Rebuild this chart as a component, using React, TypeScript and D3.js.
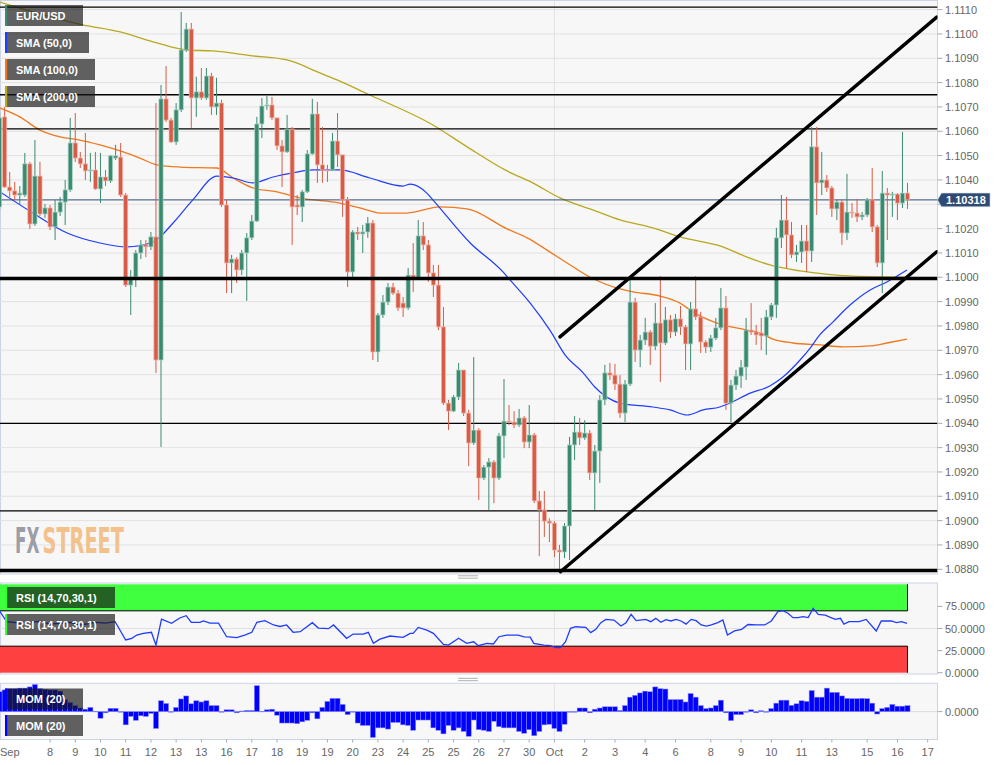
import React from 'react';
import * as d3 from 'd3';

// ---------- DATA ----------
// 4-hour EUR/USD candles: [open, high, low, close]
const OHLC: [number, number, number, number][] = [
  [1.10289, 1.10679, 1.10277, 1.10655], [1.10659, 1.10700, 1.10367, 1.10371], [1.10371, 1.10433, 1.10330, 1.10355],
  [1.10355, 1.10392, 1.10318, 1.10338], [1.10338, 1.10375, 1.10297, 1.10346], [1.10338, 1.10511, 1.10330, 1.10466],
  [1.10466, 1.10474, 1.10199, 1.10219], [1.10219, 1.10564, 1.10211, 1.10416], [1.10416, 1.10474, 1.10252, 1.10260],
  [1.10260, 1.10301, 1.10244, 1.10285], [1.10285, 1.10297, 1.10194, 1.10207], [1.10207, 1.10318, 1.10153, 1.10268],
  [1.10268, 1.10330, 1.10252, 1.10309], [1.10309, 1.10400, 1.10215, 1.10359], [1.10359, 1.10655, 1.10351, 1.10552],
  [1.10552, 1.10675, 1.10474, 1.10490], [1.10490, 1.10515, 1.10449, 1.10466], [1.10466, 1.10593, 1.10400, 1.10437],
  [1.10437, 1.10511, 1.10392, 1.10441], [1.10441, 1.10515, 1.10359, 1.10363], [1.10363, 1.10511, 1.10305, 1.10412],
  [1.10412, 1.10441, 1.10375, 1.10396], [1.10396, 1.10503, 1.10388, 1.10499], [1.10490, 1.10544, 1.10482, 1.10499],
  [1.10494, 1.10552, 1.10330, 1.10338], [1.10338, 1.10346, 1.09960, 1.09968], [1.09968, 1.10030, 1.09845, 1.10001],
  [1.10001, 1.10112, 1.09960, 1.10100], [1.10100, 1.10153, 1.10075, 1.10133], [1.10133, 1.10153, 1.10083, 1.10125],
  [1.10125, 1.10186, 1.10112, 1.10166], [1.10166, 1.10716, 1.09607, 1.09660], [1.09660, 1.10790, 1.09303, 1.10733],
  [1.10733, 1.10868, 1.10638, 1.10646], [1.10646, 1.10655, 1.10552, 1.10556], [1.10556, 1.10716, 1.10544, 1.10688],
  [1.10688, 1.11090, 1.10679, 1.10934], [1.10934, 1.11045, 1.10926, 1.11020], [1.11020, 1.11045, 1.10614, 1.10737],
  [1.10737, 1.10824, 1.10659, 1.10762], [1.10762, 1.10860, 1.10729, 1.10737], [1.10737, 1.10860, 1.10729, 1.10827],
  [1.10827, 1.10840, 1.10667, 1.10700], [1.10700, 1.10820, 1.10667, 1.10716], [1.10716, 1.10729, 1.10289, 1.10297],
  [1.10297, 1.10318, 1.09935, 1.10059], [1.10059, 1.10092, 1.09935, 1.10075], [1.10075, 1.10083, 1.09977, 1.10030],
  [1.10030, 1.10112, 1.10009, 1.10100], [1.10100, 1.10182, 1.09903, 1.10162], [1.10162, 1.10256, 1.10153, 1.10231],
  [1.10231, 1.10659, 1.10227, 1.10630], [1.10630, 1.10737, 1.10572, 1.10704], [1.10704, 1.10745, 1.10688, 1.10708],
  [1.10708, 1.10741, 1.10646, 1.10655], [1.10655, 1.10655, 1.10523, 1.10540], [1.10540, 1.10564, 1.10371, 1.10515],
  [1.10515, 1.10667, 1.10511, 1.10609], [1.10609, 1.10618, 1.10133, 1.10289], [1.10297, 1.10338, 1.10256, 1.10289],
  [1.10289, 1.10359, 1.10227, 1.10351], [1.10351, 1.10523, 1.10346, 1.10507], [1.10507, 1.10733, 1.10503, 1.10671],
  [1.10671, 1.10721, 1.10388, 1.10462], [1.10462, 1.10618, 1.10388, 1.10441], [1.10441, 1.10462, 1.10392, 1.10439],
  [1.10441, 1.10593, 1.10437, 1.10560], [1.10560, 1.10675, 1.10453, 1.10503], [1.10503, 1.10503, 1.10248, 1.10318],
  [1.10318, 1.10330, 1.09960, 1.10022], [1.10022, 1.10194, 1.10001, 1.10186], [1.10186, 1.10207, 1.10153, 1.10178],
  [1.10178, 1.10215, 1.10100, 1.10186], [1.10186, 1.10248, 1.10162, 1.10223], [1.10223, 1.10235, 1.09660, 1.09693],
  [1.09693, 1.09853, 1.09652, 1.09845], [1.09845, 1.09927, 1.09833, 1.09898], [1.09898, 1.09977, 1.09886, 1.09960],
  [1.09960, 1.09977, 1.09927, 1.09935], [1.09935, 1.09948, 1.09862, 1.09874], [1.09894, 1.09919, 1.09837, 1.09874],
  [1.09874, 1.10038, 1.09866, 1.10009], [1.10009, 1.10141, 1.09940, 1.09997], [1.09997, 1.10235, 1.09989, 1.10170],
  [1.10170, 1.10227, 1.10112, 1.10133], [1.10133, 1.10153, 1.09981, 1.10018], [1.10018, 1.10051, 1.09919, 1.09968],
  [1.09968, 1.10051, 1.09783, 1.09796], [1.09796, 1.09878, 1.09475, 1.09483], [1.09483, 1.09496, 1.09372, 1.09450],
  [1.09450, 1.09516, 1.09446, 1.09508], [1.09508, 1.09648, 1.09496, 1.09619], [1.09619, 1.09619, 1.09430, 1.09442],
  [1.09442, 1.09455, 1.09224, 1.09319], [1.09319, 1.09672, 1.09311, 1.09372], [1.09372, 1.09380, 1.09085, 1.09175],
  [1.09175, 1.09228, 1.09167, 1.09220], [1.09220, 1.09257, 1.09044, 1.09241], [1.09241, 1.09249, 1.09072, 1.09175],
  [1.09175, 1.09360, 1.09167, 1.09348], [1.09348, 1.09582, 1.09257, 1.09409], [1.09409, 1.09475, 1.09393, 1.09405],
  [1.09405, 1.09450, 1.09380, 1.09393], [1.09393, 1.09459, 1.09385, 1.09422], [1.09422, 1.09430, 1.09298, 1.09323],
  [1.09323, 1.09475, 1.09298, 1.09352], [1.09352, 1.09360, 1.09072, 1.09081], [1.09081, 1.09122, 1.08854, 1.09044],
  [1.09044, 1.09122, 1.08933, 1.08998], [1.08998, 1.09010, 1.08912, 1.08990], [1.08990, 1.08998, 1.08850, 1.08879],
  [1.08879, 1.08900, 1.08788, 1.08871], [1.08871, 1.08990, 1.08846, 1.08978], [1.08978, 1.09344, 1.08838, 1.09311],
  [1.09311, 1.09430, 1.09249, 1.09364], [1.09364, 1.09422, 1.09311, 1.09340], [1.09340, 1.09413, 1.09332, 1.09360],
  [1.09360, 1.09372, 1.09167, 1.09196], [1.09196, 1.09311, 1.09044, 1.09286], [1.09286, 1.09516, 1.09155, 1.09496],
  [1.09496, 1.09640, 1.09475, 1.09607], [1.09607, 1.09648, 1.09578, 1.09598], [1.09598, 1.09644, 1.09537, 1.09561],
  [1.09561, 1.09598, 1.09422, 1.09442], [1.09442, 1.09578, 1.09405, 1.09561], [1.09561, 1.10001, 1.09553, 1.09898],
  [1.09898, 1.09915, 1.09652, 1.09701], [1.09701, 1.09763, 1.09631, 1.09742], [1.09742, 1.09833, 1.09722, 1.09775],
  [1.09775, 1.09783, 1.09640, 1.09717], [1.09717, 1.09894, 1.09701, 1.09812], [1.09812, 1.10005, 1.09570, 1.09730],
  [1.09730, 1.09878, 1.09722, 1.09825], [1.09825, 1.09845, 1.09750, 1.09775], [1.09775, 1.09849, 1.09759, 1.09829],
  [1.09829, 1.09882, 1.09763, 1.09796], [1.09796, 1.09804, 1.09619, 1.09726], [1.09726, 1.09898, 1.09619, 1.09870],
  [1.09870, 1.10005, 1.09825, 1.09837], [1.09837, 1.09858, 1.09689, 1.09734], [1.09734, 1.09742, 1.09689, 1.09713],
  [1.09713, 1.09763, 1.09693, 1.09750], [1.09750, 1.09833, 1.09742, 1.09792], [1.09792, 1.09956, 1.09783, 1.09874],
  [1.09874, 1.09923, 1.09455, 1.09483], [1.09483, 1.09578, 1.09405, 1.09557], [1.09557, 1.09619, 1.09537, 1.09594],
  [1.09594, 1.09660, 1.09545, 1.09631], [1.09631, 1.09833, 1.09578, 1.09783], [1.09783, 1.09894, 1.09763, 1.09775],
  [1.09775, 1.09804, 1.09722, 1.09763], [1.09771, 1.09833, 1.09701, 1.09759], [1.09759, 1.09866, 1.09681, 1.09837],
  [1.09837, 1.09894, 1.09825, 1.09886], [1.09886, 1.10203, 1.09833, 1.10162], [1.10162, 1.10338, 1.10120, 1.10235],
  [1.10235, 1.10330, 1.10038, 1.10174], [1.10174, 1.10227, 1.10079, 1.10092], [1.10092, 1.10133, 1.10063, 1.10104],
  [1.10104, 1.10215, 1.10059, 1.10149], [1.10149, 1.10215, 1.10022, 1.10108], [1.10108, 1.10618, 1.10063, 1.10536],
  [1.10536, 1.10618, 1.10256, 1.10388], [1.10388, 1.10515, 1.10338, 1.10400], [1.10400, 1.10420, 1.10351, 1.10367],
  [1.10367, 1.10375, 1.10248, 1.10281], [1.10281, 1.10318, 1.10235, 1.10309], [1.10309, 1.10318, 1.10133, 1.10182],
  [1.10182, 1.10425, 1.10153, 1.10268], [1.10268, 1.10305, 1.10244, 1.10264], [1.10264, 1.10322, 1.10227, 1.10248],
  [1.10248, 1.10268, 1.10235, 1.10256], [1.10256, 1.10326, 1.10248, 1.10318], [1.10318, 1.10449, 1.10186, 1.10207],
  [1.10207, 1.10215, 1.10042, 1.10059], [1.10059, 1.10437, 1.09935, 1.10346], [1.10346, 1.10367, 1.10153, 1.10338],
  [1.10338, 1.10351, 1.10248, 1.10342], [1.10342, 1.10346, 1.10235, 1.10305], [1.10305, 1.10597, 1.10285, 1.10346],
  [1.10346, 1.10388, 1.10281, 1.10318],
];

// moving averages: [candle index, price]
const SMA50: [number, number][] = [
  [0, 1.10352], [6.6, 1.10264], [13.4, 1.10182], [19.9, 1.10141], [25.3, 1.10125], [30.4, 1.10145], [34.4, 1.10223],
  [38.3, 1.10318], [43.1, 1.10416], [46.3, 1.10408], [50.2, 1.10388], [54.2, 1.10412], [58.2, 1.10429], [62.1, 1.10441],
  [67.5, 1.10441], [73.4, 1.10408], [80, 1.10375], [81.4, 1.10383], [84.7, 1.10346], [85.9, 1.10318], [93.3, 1.10141],
  [99.8, 1.10022], [101.2, 1.09989], [105.2, 1.09894], [109.1, 1.09783], [112.1, 1.09681], [115.7, 1.09607],
  [118, 1.09549], [123, 1.09483], [129.5, 1.09467], [132.9, 1.09455], [136.3, 1.09434], [139.5, 1.09455],
  [142.8, 1.09467], [144.8, 1.09483], [148.8, 1.09524], [152.7, 1.09553], [155.3, 1.0959], [158.7, 1.0966],
  [160.7, 1.09709], [162.6, 1.09763], [165.2, 1.09816], [168.6, 1.09886], [172.6, 1.09948], [175.9, 1.09981],
  [179.9, 1.1003],
];
const SMA100: [number, number][] = [
  [0, 1.10696], [4, 1.10659], [8, 1.10605], [12, 1.10577], [15.9, 1.10564], [19.9, 1.10544], [24.5, 1.10515],
  [27.8, 1.1049], [31.2, 1.10462], [35.8, 1.10453], [43.1, 1.10449], [46.3, 1.10408], [50.2, 1.10367], [55, 1.10351],
  [59.5, 1.10326], [67.5, 1.10305], [72.8, 1.10277], [75.4, 1.10264], [80.8, 1.10264], [87.3, 1.10289],
  [92.7, 1.10281], [100.6, 1.10199], [104.6, 1.10162], [109.7, 1.10096], [112.5, 1.10059], [117, 1.10001],
  [123, 1.09952], [125.6, 1.0994], [130.9, 1.09923], [134.9, 1.09894], [137.5, 1.09857], [142.2, 1.09812],
  [148.2, 1.09783], [150.8, 1.09771], [153.3, 1.09746], [157.3, 1.0973], [162.6, 1.09722], [167.2, 1.09714],
  [172.6, 1.09718], [175.9, 1.0973], [179.9, 1.09746],
];
const SMA200: [number, number][] = [
  [0, 1.11131], [16.5, 1.11037], [23.9, 1.11008], [31.2, 1.10963], [37.1, 1.10934], [42.3, 1.1093], [50.2, 1.1091],
  [57, 1.10893], [63.5, 1.1084], [66.9, 1.10811], [73.4, 1.10749], [85.9, 1.10626], [92.7, 1.10536], [100.6, 1.10437],
  [105.7, 1.10388], [111.1, 1.10326], [117.6, 1.10277], [123, 1.10236], [129.5, 1.10203], [134.9, 1.10166],
  [143.4, 1.10125], [148.2, 1.10083], [152.7, 1.10051], [158.7, 1.10026], [169.2, 1.10005], [179.9, 1.10001],
];

// RSI(14): [candle index, value]
const RSI: [number, number][] = [
  [0, 69.8], [1.4, 57.8], [4, 56], [8, 58], [10, 55], [14, 57], [16, 54], [19, 57], [21, 56], [22.9, 57.7], [25, 37],
  [26.2, 38.9], [27.2, 42.6], [28.5, 44.5], [30.1, 45.7], [31, 31.3], [32.1, 60.7], [34.1, 55.9], [35.8, 62.2],
  [37, 64.5], [38, 57], [39.7, 57], [40.4, 58.5], [41.7, 56], [43.4, 56], [45, 40.7], [47, 39.6], [48.6, 42.6],
  [50, 45.7], [51, 57], [52.6, 58.8], [54.3, 54], [55.6, 52.3], [56.9, 54], [58.2, 45.7], [59.6, 46.4], [62, 56.6],
  [63.2, 50.5], [65.2, 49.8], [66.2, 54], [68.8, 38.9], [70.1, 43.7], [72.1, 43.7], [73.1, 45.7], [74.1, 33.2],
  [75.4, 38], [77.4, 41.5], [80, 40], [81.4, 44.5], [82, 44.5], [83, 51.2], [84.7, 48.2], [86, 44.5], [88, 32],
  [89, 31.3], [91, 38.9], [92.6, 33.2], [94, 35], [94.9, 30.5], [96.6, 33.2], [97.9, 32.5], [99, 40.7], [100.5, 42.6],
  [102.8, 42.6], [104, 40.5], [105.2, 40.3], [105.9, 33.2], [107.9, 31.3], [109.2, 30.5], [110.2, 28.3], [111.2, 28.3],
  [112.2, 35], [113.2, 50.2], [114.2, 52], [116.2, 51.3], [117.2, 45.3], [118.2, 49], [119.2, 56.6], [120.2, 60.3],
  [121.8, 59.6], [123.2, 52.8], [124.2, 56.6], [125.2, 66], [126.2, 58.9], [128.1, 60.3], [129.1, 57.7], [130.1, 61.5],
  [131.1, 57], [132.1, 60], [133.1, 58.5], [134.1, 60.3], [135.1, 58.5], [136.1, 54.9], [137.1, 60.3], [138.1, 58.9],
  [139.1, 54], [140.1, 52.8], [141.1, 54], [142.4, 56.6], [143.4, 59.6], [144.3, 42.6], [145.7, 47.2], [147.1, 49],
  [148.4, 54.5], [150, 54], [151.7, 54], [153, 58.5], [154.3, 69], [155.3, 70.2], [156.3, 67.2], [157.3, 62.3],
  [158.3, 62.3], [159.3, 63.4], [160.3, 62.3], [161.3, 72.8], [162.3, 66], [163.7, 65.2], [164.7, 62.6], [165.7, 60.3],
  [166.7, 61.5], [167.4, 54.9], [168.4, 57.7], [170.4, 57.7], [171.8, 60.3], [173.8, 47.2], [174.8, 58.5],
  [176.8, 58.5], [177.8, 56.6], [178.8, 57.7], [179.9, 55.9],
];

// Momentum(20), one value per candle (price units)
const MOM: number[] = [
  0.0033, 0.0036, 0.0038, 0.0038, 0.0039, 0.0039, 0.0041, 0.0045, 0.0038, 0.0037, 0.0036, 0.0036, 0.0034, 0.002,
  0.0015, 0.001, 0.0006, 0.0004, 0.0007, 0.00005, -0.0011, -0.0002, 0.00055, 0.00055, 0, -0.0022, -0.0008, -0.00145,
  -0.0007, -0.0008, -0.0003, -0.0028, 0.0018, 0.00135, 0, 0.0007, 0.0021, 0.0026, 0.0013, 0.0018, 0.0016, 0.0018,
  0.001, 0.001, -0.0001, 0.0003, 0.0003, -0.0002, 0.0001, 0.0002, 0.0002, 0.0043, 0.00005, 0.0003, 0.0004, -0.0006,
  -0.0019, -0.0019, -0.0019, -0.002, -0.0017, -0.00145, -0.0002, -0.0012, 0.0007, 0.0017, 0.0022, 0.0022, 0.0012,
  -0.0005, -0.00005, -0.0019, -0.0023, -0.0023, -0.0043, -0.0027, -0.0027, -0.0029, -0.0018, -0.0018, -0.0022,
  -0.0023, -0.0031, -0.0014, -0.0014, -0.0014, -0.0027, -0.0031, -0.0037, -0.0023, -0.0031, -0.0027, -0.0033,
  -0.0041, -0.0014, -0.003, -0.0031, -0.0033, -0.0016, -0.0025, -0.0027, -0.0027, -0.0027, -0.0033, -0.0036, -0.003,
  -0.004, -0.0033, -0.0022, -0.0021, -0.0028, -0.0033, -0.0021, 0, 0, 0.0006, 0.0006, -0.0002, 0.0004, 0.0006,
  0.0008, 0.0008, 0.0008, 0.0002, 0.001, 0.0024, 0.0027, 0.0031, 0.0034, 0.0033, 0.0041, 0.0038, 0.00375, 0.002,
  0.002, 0.002, 0.0016, 0.003, 0.0024, 0.001, 0.0005, 0.0006, 0.001, 0.0019, -0.0002, -0.0015, -0.0005, -0.0005, 0,
  0.0003, -0.0002, 0.00015, 0, 0.0005, 0.0014, 0.0019, 0.0019, 0.00105, 0.0013, 0.0018, 0.0017, 0.0035, 0.0024,
  0.0024, 0.0039, 0.0032, 0.0032, 0.0026, 0.0022, 0.00215, 0.00215, 0.0022, 0.00215, 0.0014, -0.0004, 0.0005, 0.0007,
  0.0012, 0.0009, 0.0009, 0.001,
];

const LEVELS_THIN = [1.1111, 1.1075, 1.1061, 1.094, 1.0904];
const LEVELS_THICK = [1.09995, 1.08795];
// channel lines: [[index, price], [index, price]]
const CHANNEL: [number, number][][] = [
  [[111.1, 1.09755], [185.8, 1.11069]],
  [[111.2, 1.0879], [185.8, 1.10105]],
];
const LAST_PRICE = 1.10318;
const PRICE_TICKS = [1.111, 1.11, 1.109, 1.108, 1.107, 1.106, 1.105, 1.104, 1.103, 1.102, 1.101, 1.1, 1.099, 1.098,
  1.097, 1.096, 1.095, 1.094, 1.093, 1.092, 1.091, 1.09, 1.089, 1.088];
const RSI_TICKS = [75, 50, 25, 0];
const X_TICK_IDX = [10, 15, 20, 25, 30, 35, 40, 45, 50, 55, 60, 65, 70, 75, 80, 85, 90, 95, 100, 105, 110, 116, 122,
  128, 134, 141, 147, 153, 159, 165, 172, 178, 184];
const X_TICK_LABELS = ['8', '9', '10', '11', '12', '13', '13', '16', '17', '18', '19', '19', '20', '23', '24', '25',
  '25', '26', '27', '30', 'Oct', '2', '3', '4', '6', '8', '9', '10', '11', '13', '15', '16', '17'];
const MONTH_START_IDX = 110;

// ---------- CHART ----------
const FONT = '"Liberation Sans", Arial, Helvetica, sans-serif';
const WM_FONT = '"DejaVu Sans Condensed", "DejaVu Sans", sans-serif';
const UP = '#3a8a72';
const DOWN = '#d65c48';

// text squeezed horizontally to a target width (measured after layout)
function FitText(props: { x: number; y: number; width: number; size: number; fill: string; children: string }) {
  const ref = React.useRef<SVGTextElement>(null);
  const [sx, setSx] = React.useState(0.6);
  React.useLayoutEffect(() => {
    if (ref.current) {
      const w = ref.current.getComputedTextLength();
      if (w > 0) setSx(props.width / w);
    }
  }, [props.width, props.children]);
  return (
    <g transform={`translate(${props.x},${props.y}) scale(${sx},1)`}>
      <text ref={ref} x={0} y={0} fontFamily={WM_FONT} fontWeight="bold" fontSize={props.size} fill={props.fill}>
        {props.children}
      </text>
    </g>
  );
}

export default function App() {
  const W = 1008, H = 765;
  const PR = 937.5; // right edge of plots
  const main = { top: 1, bottom: 574 };
  const rsiP = { top: 583, bottom: 674 };
  const momP = { top: 683.3, bottom: 739.5 };

  const x = d3.scaleLinear().domain([0, 180]).range([-0.4, 907.5]);
  const y = d3.scaleLinear().domain([1.088, 1.111]).range([569.3, 9.6]);
  const yR = d3.scaleLinear().domain([0, 100]).range([672.7, 584.3]);
  const yM = d3.scaleLinear().domain([-0.0046, 0.0047]).range([739.3, 683.3]);
  const step = x(1) - x(0);
  const bw = step * 0.82;

  const smaLine = d3.line<[number, number]>().x(d => x(d[0])).y(d => y(d[1])).curve(d3.curveMonotoneX);
  const rsiLine = d3.line<[number, number]>().x(d => x(d[0])).y(d => yR(d[1]));
  const lastX = x(OHLC.length - 1);
  const lastY = y(LAST_PRICE);

  const labelBox = (bx: number, by: number, w: number, text: string, strip: string, key: string) => (
    <g key={key}>
      <rect x={bx} y={by} width={w} height={21} fill="#171717" opacity={0.68} />
      <rect x={bx} y={by} width={2.2} height={21} fill={strip} />
      <text x={bx + 11} y={by + 14.6} fill="#fff" fontSize={11} fontWeight="bold" fontFamily={FONT}>{text}</text>
    </g>
  );

  const handle = (cy: number) => (
    <g stroke="#9a9a9a" strokeWidth={0.8}>
      <line x1={458} x2={478} y1={cy - 1.2} y2={cy - 1.2} />
      <line x1={458} x2={478} y1={cy + 1.2} y2={cy + 1.2} />
    </g>
  );

  return (
    <svg width={W} height={H} style={{ position: 'absolute', left: 0, top: 0, background: '#fff' }}
      xmlns="http://www.w3.org/2000/svg">
      <defs>
        <clipPath id="clipMain"><rect x={0} y={main.top} width={PR} height={main.bottom - main.top} /></clipPath>
        <clipPath id="clipRsi"><rect x={0} y={rsiP.top} width={PR} height={rsiP.bottom - rsiP.top} /></clipPath>
        <clipPath id="clipMom"><rect x={0} y={momP.top} width={PR} height={momP.bottom - momP.top} /></clipPath>
      </defs>
      <rect x={0} y={0} width={W} height={H} fill="#fff" />

      {/* ===== MAIN PANEL ===== */}
      <rect x={0.5} y={0.5} width={PR - 0.5} height={main.bottom - 0.5} fill="#f7f7f7" stroke="#cdd3e6" />
      <g clipPath="url(#clipMain)">
        {PRICE_TICKS.map(p => (
          <line key={p} x1={0} x2={PR} y1={y(p)} y2={y(p)} stroke="#e2e2e2" strokeWidth={1} />
        ))}
        <line x1={x(MONTH_START_IDX)} x2={x(MONTH_START_IDX)} y1={main.top} y2={main.bottom} stroke="#e2e2e2" />

        {/* watermark */}
        <FitText x={15} y={553} width={24.5} size={35} fill="#9b9ea6">FX</FitText>
        <FitText x={42.5} y={553} width={81.5} size={35} fill="#f2c18c">STREET</FitText>

        {/* SMA lines */}
        <path d={smaLine(SMA200) || ''} fill="none" stroke="#b8a820" strokeWidth={1.3} />
        <path d={smaLine(SMA100) || ''} fill="none" stroke="#f0781e" strokeWidth={1.3} />
        <path d={smaLine(SMA50) || ''} fill="none" stroke="#1f3cff" strokeWidth={1.2} />

        {/* horizontal levels */}
        {LEVELS_THIN.map(p => (
          <line key={'t' + p} x1={0} x2={PR} y1={y(p)} y2={y(p)} stroke="#000" strokeWidth={1.3} />
        ))}
        <line x1={0} x2={PR} y1={lastY} y2={lastY} stroke="#2f4b74" strokeWidth={1} />

        {/* candles */}
        {OHLC.map((c, i) => {
          const [o, h, l, cl] = c;
          const up = cl >= o;
          const col = up ? UP : DOWN;
          const top = y(Math.max(o, cl));
          const bot = y(Math.min(o, cl));
          const cx = x(i);
          return (
            <g key={i}>
              <line x1={cx} x2={cx} y1={y(h)} y2={y(l)} stroke={col} strokeWidth={1} />
              <rect x={cx - bw / 2} y={top} width={bw} height={Math.max(1, bot - top)} fill={col}
                stroke={up ? '#a9d3c4' : '#f1b7aa'} strokeWidth={0.7} />
            </g>
          );
        })}

        {LEVELS_THICK.map(p => (
          <line key={'k' + p} x1={0} x2={PR} y1={y(p)} y2={y(p)} stroke="#000" strokeWidth={3.4} />
        ))}
        {CHANNEL.map((seg, k) => (
          <line key={'c' + k} x1={x(seg[0][0])} y1={y(seg[0][1])} x2={x(seg[1][0])} y2={y(seg[1][1])}
            stroke="#000" strokeWidth={3.4} strokeLinecap="round" />
        ))}
      </g>
      {labelBox(5, 5, 78, 'EUR/USD', UP, 'l1')}
      {labelBox(5, 32, 84, 'SMA (50,0)', '#1f3cff', 'l2')}
      {labelBox(5, 59, 90, 'SMA (100,0)', '#f0781e', 'l3')}
      {labelBox(5, 86, 90, 'SMA (200,0)', '#b8a820', 'l4')}

      {/* price axis */}
      {PRICE_TICKS.map(p => (
        <g key={'pa' + p}>
          <line x1={PR} x2={PR + 5} y1={y(p)} y2={y(p)} stroke="#a8a8b8" />
          {Math.abs(y(p) - lastY) > 9 && (
            <text x={945} y={y(p) + 4} fontSize={11} fill="#666" fontFamily={FONT}>{p.toFixed(4)}</text>
          )}
        </g>
      ))}
      <g>
        <path d={`M${PR},${lastY} L${PR + 4},${lastY - 6.8} L990,${lastY - 6.8} L990,${lastY + 6.8} L${PR + 4},${lastY + 6.8} Z`}
          fill="#2f4b74" stroke="#c9d3e6" strokeWidth={0.6} />
        <text x={946} y={lastY + 4} fontSize={11} fontWeight="bold" fill="#fff" fontFamily={FONT}>
          {LAST_PRICE.toFixed(5)}
        </text>
      </g>

      {handle(577)}

      {/* ===== RSI PANEL ===== */}
      <rect x={0.5} y={rsiP.top} width={PR - 0.5} height={rsiP.bottom - rsiP.top} fill="#f7f7f7" stroke="#cdd3e6" />
      <g clipPath="url(#clipRsi)">
        <line x1={0} x2={PR} y1={yR(50)} y2={yR(50)} stroke="#e0e0e0" />
        <line x1={x(MONTH_START_IDX)} x2={x(MONTH_START_IDX)} y1={rsiP.top} y2={rsiP.bottom} stroke="#e2e2e2" />
        <rect x={0} y={yR(100)} width={lastX} height={yR(70) - yR(100)} fill="#3fff3f" />
        <rect x={0} y={yR(30)} width={lastX} height={yR(0) - yR(30)} fill="#ff4040" />
        <line x1={0} x2={lastX} y1={yR(70)} y2={yR(70)} stroke="#000" />
        <line x1={0} x2={lastX} y1={yR(30)} y2={yR(30)} stroke="#000" />
        <line x1={lastX} x2={lastX} y1={yR(100)} y2={yR(70)} stroke="#000" />
        <line x1={lastX} x2={lastX} y1={yR(30)} y2={yR(0)} stroke="#000" />
        <path d={rsiLine(RSI) || ''} fill="none" stroke="#1f3cff" strokeWidth={1.3} />
      </g>
      {labelBox(5, 587, 110, 'RSI (14,70,30,1)', '#33ff33', 'r1')}
      {labelBox(5, 614, 110, 'RSI (14,70,30,1)', '#33ff33', 'r2')}
      {RSI_TICKS.map(v => (
        <g key={'ra' + v}>
          <line x1={PR} x2={PR + 5} y1={yR(v)} y2={yR(v)} stroke="#a8a8b8" />
          <text x={945} y={yR(v) + 4} fontSize={11} fill="#666" fontFamily={FONT}>{v.toFixed(4)}</text>
        </g>
      ))}

      {handle(679.5)}

      {/* ===== MOM PANEL ===== */}
      <rect x={0.5} y={momP.top} width={PR - 0.5} height={momP.bottom - momP.top} fill="#f7f7f7" stroke="#cdd3e6" />
      <g clipPath="url(#clipMom)">
        <line x1={0} x2={PR} y1={yM(0)} y2={yM(0)} stroke="#dcdcdc" />
        <line x1={x(MONTH_START_IDX)} x2={x(MONTH_START_IDX)} y1={momP.top} y2={momP.bottom} stroke="#e2e2e2" />
        {MOM.map((v, i) => {
          const y0 = yM(0), y1 = yM(v);
          return (
            <rect key={'m' + i} x={x(i) - step / 2} y={Math.min(y0, y1)} width={step}
              height={Math.max(0.6, Math.abs(y1 - y0))} fill="#0000ff" stroke="#8a8aff" strokeWidth={0.5} />
          );
        })}
      </g>
      {labelBox(5, 688.5, 78, 'MOM (20)', '#0000ff', 'm1')}
      {labelBox(5, 715, 78, 'MOM (20)', '#0000ff', 'm2')}
      <line x1={PR} x2={PR + 5} y1={yM(0)} y2={yM(0)} stroke="#a8a8b8" />
      <text x={945} y={yM(0) + 4} fontSize={11} fill="#666" fontFamily={FONT}>{(0).toFixed(4)}</text>

      {/* ===== TIME AXIS ===== */}
      <text x={0} y={756} fontSize={11} fill="#666" fontFamily={FONT}>Sep</text>
      {X_TICK_IDX.map((idx, k) => (
        <g key={'xt' + k}>
          <line x1={x(idx)} x2={x(idx)} y1={momP.bottom} y2={momP.bottom + 3} stroke="#a8a8b8" />
          <text x={x(idx)} y={756} fontSize={11} fill="#666" textAnchor="middle" fontFamily={FONT}>
            {X_TICK_LABELS[k]}
          </text>
        </g>
      ))}
    </svg>
  );
}
